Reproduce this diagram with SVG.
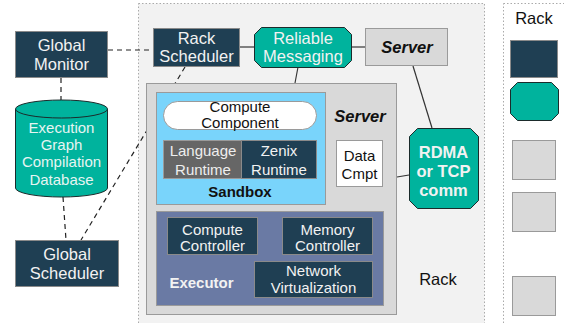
<svg xmlns="http://www.w3.org/2000/svg" width="564" height="323" viewBox="0 0 564 323">
<style>
text{font-family:"Liberation Sans",Arial,sans-serif;font-size:15px;text-anchor:middle}
.big{font-size:16.5px}
.navy{fill:#1f3f53;stroke:#8a8a8a;stroke-width:1}
.teal{fill:#00b39d;stroke:#1b2b2b;stroke-width:1}
.grey{fill:#d9d9d9;stroke:#9a9a9a;stroke-width:1}
.w{fill:#f2f2f2}
.k{fill:#111}
.b{font-weight:bold}
.it{font-style:italic;font-weight:bold;font-size:16.5px}
.dash{fill:none;stroke:#222;stroke-width:1.2;stroke-dasharray:5,4}
.solid{fill:none;stroke:#333;stroke-width:1.2}
</style>
<rect width="564" height="323" fill="#ffffff"/>
<g id="rack-main">
<rect x="138.5" y="3.5" width="346" height="330" fill="#f2f2f2" stroke="#aaaaaa" stroke-dasharray="1.5,2"/>
<text x="438" y="285" class="k big">Rack</text>
</g>
<g id="rack-legend">
<rect x="503.5" y="3.5" width="80" height="330" fill="#ffffff" stroke="#aaaaaa" stroke-dasharray="1.5,2"/>
<text x="534" y="24" class="k big">Rack</text>
<rect x="510.5" y="40.5" width="47" height="37" class="navy"/>
<polygon points="517.5,82.5 551.5,82.5 558.5,89.5 558.5,113.5 551.5,120.5 517.5,120.5 510.5,113.5 510.5,89.5" class="teal"/>
<rect x="512.5" y="140.5" width="43" height="39" class="grey"/>
<rect x="512.5" y="192.5" width="43" height="39" class="grey"/>
<rect x="512.5" y="276.5" width="43" height="39" class="grey"/>
</g>
<g id="connectors">
<line x1="108" y1="50" x2="153" y2="50" class="dash"/>
<line x1="61" y1="78" x2="61" y2="100" class="dash"/>
<line x1="63" y1="197" x2="66" y2="240" class="dash"/>
<line x1="185" y1="67" x2="81" y2="240" class="dash"/>
<line x1="240" y1="47" x2="254" y2="47" class="solid"/>
<line x1="351" y1="47" x2="365" y2="47" class="solid"/>
<line x1="298" y1="67" x2="295" y2="83" class="solid"/>
<line x1="413" y1="66" x2="432" y2="128" class="solid"/>
<line x1="397" y1="177" x2="409" y2="175" class="solid"/>
</g>
<g id="global-monitor">
<rect x="15.5" y="31.5" width="92" height="46" class="navy"/>
<text x="61.5" y="51" class="w big">Global</text>
<text x="61.5" y="69.5" class="w big">Monitor</text>
</g>
<g id="database">
<path d="M15.5,109 L15.5,188 A46,9 0 0 0 107.5,188 L107.5,109" fill="#00b39d" stroke="#1b2b2b"/>
<ellipse cx="61.5" cy="109" rx="46" ry="9" fill="#00b39d" stroke="#1b2b2b"/>
<text x="61.5" y="133" fill="#e6f5f2">Execution</text>
<text x="61.5" y="150" fill="#e6f5f2">Graph</text>
<text x="61.5" y="167" fill="#e6f5f2">Compilation</text>
<text x="61.5" y="185" fill="#e6f5f2">Database</text>
</g>
<g id="global-scheduler">
<rect x="15.5" y="240.5" width="103" height="46" class="navy"/>
<text x="67" y="260" class="w big">Global</text>
<text x="67" y="279" class="w big">Scheduler</text>
</g>
<g id="rack-scheduler">
<rect x="153.5" y="28.5" width="86" height="38" class="navy"/>
<text x="196.5" y="44" class="w big">Rack</text>
<text x="196.5" y="62" class="w big">Scheduler</text>
</g>
<g id="reliable-messaging">
<polygon points="261.5,27.5 344.5,27.5 351.5,34.5 351.5,60.5 344.5,67.5 261.5,67.5 254.5,60.5 254.5,34.5" class="teal"/>
<text x="303" y="44" class="w big">Reliable</text>
<text x="303" y="62" class="w big">Messaging</text>
</g>
<g id="server-top">
<rect x="365.5" y="28.5" width="82" height="37" class="grey"/>
<text x="407" y="53" class="k it">Server</text>
</g>
<g id="rdma">
<polygon points="417.5,128.5 470.5,128.5 478.5,136.5 478.5,200.5 470.5,208.5 417.5,208.5 409.5,200.5 409.5,136.5" class="teal"/>
<text x="443.5" y="158" class="w b big">RDMA</text>
<text x="443.5" y="177" class="w b big">or TCP</text>
<text x="443.5" y="196" class="w b big">comm</text>
</g>
<g id="server-inner">
<rect x="146.5" y="83.5" width="250" height="231" class="grey"/>
<text x="360" y="122" class="k it">Server</text>
</g>
<g id="sandbox">
<rect x="156.5" y="92.5" width="169" height="112" fill="#79d4fb" stroke="#9a9a9a"/>
<text x="240" y="197" class="k b">Sandbox</text>
</g>
<g id="compute-component">
<rect x="163.5" y="101.5" width="153" height="28" rx="14" ry="14" fill="#ffffff" stroke="#9a9a9a"/>
<text x="240" y="112" class="k">Compute</text>
<text x="240" y="128" class="k">Component</text>
</g>
<g id="language-runtime">
<rect x="163.5" y="140.5" width="78" height="38" fill="#666666" stroke="#9a9a9a"/>
<text x="203" y="156" fill="#eeeeee">Language</text>
<text x="203" y="175" fill="#eeeeee">Runtime</text>
</g>
<g id="zenix-runtime">
<rect x="241.5" y="140.5" width="75" height="38" class="navy"/>
<text x="279" y="156" class="w">Zenix</text>
<text x="279" y="175" class="w">Runtime</text>
</g>
<g id="data-cmpt">
<rect x="336.5" y="140.5" width="46" height="46" fill="#ffffff" stroke="#9a9a9a"/>
<text x="359.5" y="161" class="k">Data</text>
<text x="359.5" y="179" class="k">Cmpt</text>
</g>
<g id="executor">
<rect x="156.5" y="211.5" width="227" height="94" fill="#6a7aa4" stroke="#9a9a9a"/>
<text x="201.5" y="288" class="w b">Executor</text>
</g>
<g id="compute-controller">
<rect x="167.5" y="217.5" width="90" height="37" class="navy"/>
<text x="212.5" y="235" class="w">Compute</text>
<text x="212.5" y="251" class="w">Controller</text>
</g>
<g id="memory-controller">
<rect x="282.5" y="217.5" width="90" height="37" class="navy"/>
<text x="327.5" y="235" class="w">Memory</text>
<text x="327.5" y="251" class="w">Controller</text>
</g>
<g id="network-virtualization">
<rect x="254.5" y="261.5" width="118" height="36" class="navy"/>
<text x="313.5" y="276" class="w">Network</text>
<text x="313.5" y="293" class="w">Virtualization</text>
</g>
</svg>
